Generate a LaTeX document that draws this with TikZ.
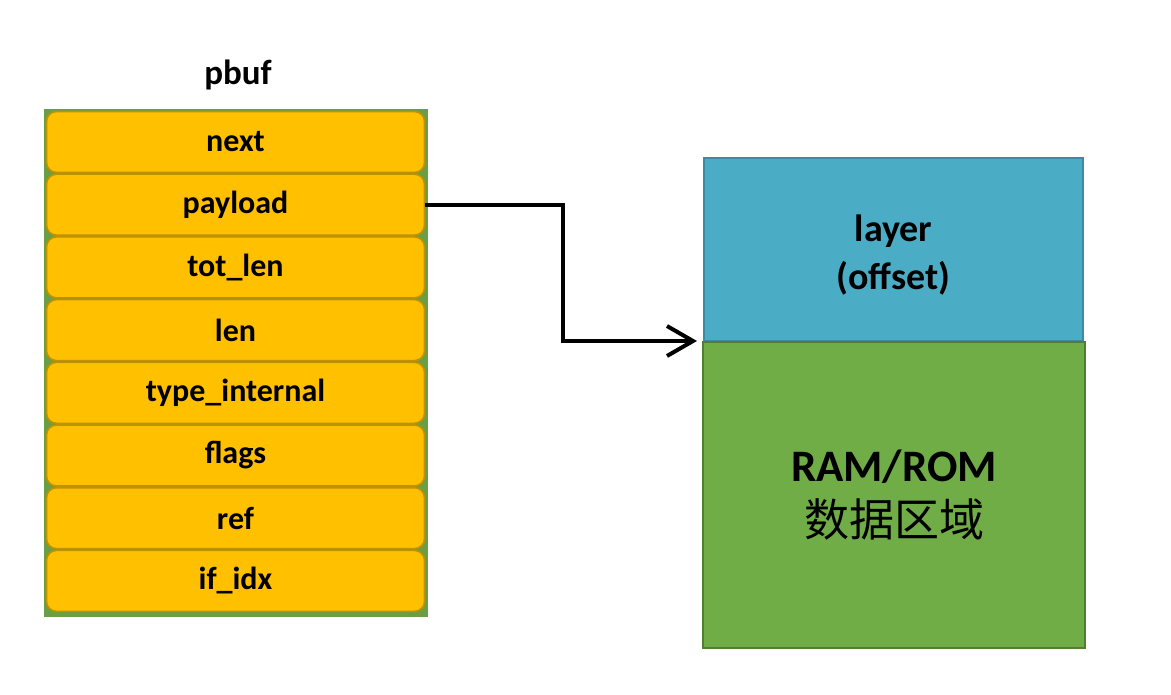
\documentclass[tikz,border=0pt]{standalone}
\usepackage{fontspec}
\setmainfont{Carlito}
\newfontfamily\cjk{Noto Sans CJK SC}
\usetikzlibrary{arrows.meta,positioning}
\definecolor{fieldfill}{HTML}{FFC000}
\definecolor{fielddraw}{HTML}{C09100}
\definecolor{framegreen}{HTML}{6A9E45}
\definecolor{layerfill}{HTML}{4BACC6}
\definecolor{layerdraw}{HTML}{3B8CA3}
\definecolor{datafill}{HTML}{70AD47}
\definecolor{datadraw}{HTML}{507E32}

\begin{document}
\begin{tikzpicture}[x=0.5pt,y=-0.5pt,node distance=0.85pt,font=\bfseries]
  \tikzstyle{field}=[draw=fielddraw,fill=fieldfill,rounded corners=5pt,line width=0.8pt,outer sep=0pt,
    minimum width=189pt,minimum height=30.5pt,inner sep=0pt,font=\bfseries\fontsize{16}{19}\selectfont]
  \tikzstyle{area}=[line width=1pt,inner sep=0pt]
  \tikzstyle{areatext}=[align=center,inner sep=0pt]

  \useasboundingbox (0,0) rectangle (1171,695);

  \node (pbuf) at (238,75) {\fontsize{17.5}{21}\selectfont pbuf};

  % the struct and its fields
  \node[draw=framegreen,fill=framegreen,minimum width=191.5pt,minimum height=253.5pt] (frame) at (235.5,362.5) {};
  \node[field] (next) at (235.5,142) {next};
  \foreach \nm/\txt [remember=\nm as \prev (initially next)] in
      {payload/payload,totlen/tot\_len,len/len,typeint/type\_internal,flags/flags,ref/ref,ifidx/if\_idx}
    \node[field,below=of \prev] (\nm) {\txt};

  % the buffer
  \node[area,draw=layerdraw,fill=layerfill,minimum width=189.5pt,minimum height=91.5pt] (layer) at (893.5,249.5) {};
  \node[area,draw=datadraw,fill=datafill,minimum width=191pt,minimum height=153pt] (data) at (894,495) {};
  \node[areatext,font=\bfseries\fontsize{19}{24}\selectfont] (layertxt) at ([yshift=-3pt]layer.center) {layer\\(offset)};
  \node[areatext,font=\bfseries\fontsize{22.5}{27.5}\selectfont] (datatxt) at (data.center) {RAM/ROM\\{\mdseries\cjk 数据区域}};

  \draw[line width=2pt,-{Straight Barb[length=13pt,width=15pt,line width=2pt]},shorten >=2.5pt]
    (payload.east) -- ++(138,0) |- (data.north west);
\end{tikzpicture}
\end{document}
